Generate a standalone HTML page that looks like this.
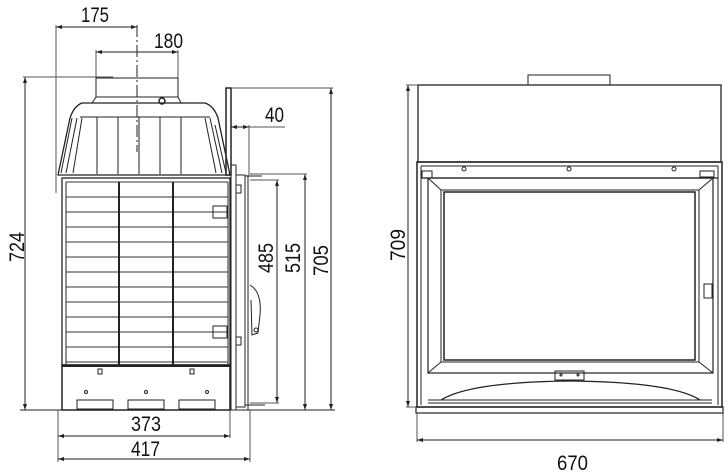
<!DOCTYPE html>
<html><head><meta charset="utf-8"><style>
html,body{margin:0;padding:0;background:#fff;}
svg{display:block;}
text{font-family:"Liberation Sans",sans-serif;font-size:21px;fill:#111;}
</style></head><body>
<svg width="728" height="473" viewBox="0 0 728 473" xmlns="http://www.w3.org/2000/svg">
<g stroke="#222" fill="none" stroke-width="1">
<!-- ===== LEFT VIEW ===== -->
<!-- dims top -->
<line x1="56" y1="27" x2="137" y2="27"/>
<line x1="56" y1="25" x2="56" y2="193" stroke="#555"/>
<line x1="137" y1="25" x2="137" y2="152" stroke-dasharray="12,3,2,3"/>
<line x1="96" y1="52" x2="178" y2="52"/>
<line x1="96" y1="50" x2="96" y2="78" stroke="#555"/>
<line x1="178" y1="50" x2="178" y2="78" stroke="#555"/>
<!-- 724 -->
<line x1="25" y1="77" x2="25" y2="410"/>
<line x1="23" y1="77" x2="113" y2="77" stroke="#555"/>
<!-- baseline -->
<line x1="20" y1="410" x2="335" y2="410"/>
<!-- flue -->
<rect x="96" y="78" width="82" height="19"/>
<path d="M92 103 L96 97 L178 97 L181 103"/>
<circle cx="162" cy="101" r="3" stroke-width="1.5"/>
<!-- hood -->
<path d="M82 103 L205 103 Q214 106 218 118 L230 175 L58 175 L70 118 Q74 106 82 103 Z" stroke-width="1.3"/>
<line x1="80" y1="117" x2="210" y2="117"/>
<path d="M72 118 L61 173 M77 118 L66 173 M82 118 L73 173"/>
<path d="M205 118 L216 173 M210 118 L222 173 M215 125 L226 173"/>
<line x1="97" y1="117" x2="97" y2="174"/><line x1="118" y1="117" x2="118" y2="174"/>
<line x1="139" y1="117" x2="139" y2="174"/><line x1="160" y1="117" x2="160" y2="174"/>
<line x1="181" y1="117" x2="181" y2="174"/>
<!-- body -->
<rect x="62" y="178" width="168" height="187" stroke-width="1.3"/>
<line x1="66" y1="182" x2="66" y2="365"/>
<line x1="228" y1="182" x2="228" y2="365"/>
<g stroke="#333">
<line x1="66" y1="182" x2="228" y2="182"/>
<line x1="66" y1="197" x2="228" y2="197"/><line x1="66" y1="212" x2="228" y2="212"/>
<line x1="66" y1="227" x2="228" y2="227"/><line x1="66" y1="242" x2="228" y2="242"/>
<line x1="66" y1="257" x2="228" y2="257"/><line x1="66" y1="272" x2="228" y2="272"/>
<line x1="66" y1="287" x2="228" y2="287"/><line x1="66" y1="302" x2="228" y2="302"/>
<line x1="66" y1="317" x2="228" y2="317"/><line x1="66" y1="332" x2="228" y2="332"/>
<line x1="66" y1="347" x2="228" y2="347"/><line x1="66" y1="362" x2="228" y2="362"/>
</g>
<line x1="119" y1="182" x2="119" y2="365" stroke-width="2"/>
<line x1="173" y1="182" x2="173" y2="365" stroke-width="2"/>
<rect x="213" y="206" width="14" height="12"/>
<rect x="213" y="326" width="14" height="12"/>
<!-- lower box -->
<rect x="62" y="365" width="168" height="45" stroke-width="1.5"/>
<line x1="62" y1="366" x2="230" y2="366" stroke-width="2"/>
<rect x="77" y="400" width="36" height="9"/>
<rect x="128" y="400" width="36" height="9"/>
<rect x="179" y="400" width="36" height="9"/>
<circle cx="86" cy="392" r="1.5"/><circle cx="146" cy="392" r="1.5"/><circle cx="207" cy="392" r="1.5"/>
<rect x="98" y="369" width="4" height="5"/><rect x="190" y="369" width="4" height="5"/>
<!-- side plate and frame -->
<rect x="226" y="88" width="5" height="87" stroke-width="1.5"/>
<rect x="231" y="165" width="5" height="245"/>
<rect x="236" y="175" width="9" height="232"/>
<line x1="248" y1="175" x2="248" y2="410"/>
<rect x="236" y="185" width="5" height="8"/><rect x="236" y="337" width="5" height="8"/>
<path d="M245 176 L262 176 M245 405 L265 405"/>
<path d="M250 285 Q262 292 260 315 L258 333 L252 335 L251 300" />
<circle cx="256" cy="330" r="2"/>
<!-- 40 -->
<line x1="231" y1="127" x2="249" y2="127"/>
<line x1="249" y1="125" x2="249" y2="175" stroke="#555"/>
<line x1="249" y1="127" x2="285" y2="127" stroke="#555"/>
<!-- 485 515 705 -->
<line x1="277" y1="180" x2="277" y2="403"/>
<line x1="250" y1="180" x2="279" y2="180" stroke="#555"/>
<line x1="250" y1="403" x2="279" y2="403" stroke="#555"/>
<line x1="305" y1="174" x2="305" y2="410"/>
<line x1="250" y1="174" x2="307" y2="174" stroke="#555"/>
<line x1="331" y1="88" x2="331" y2="410"/>
<line x1="232" y1="88" x2="333" y2="88" stroke="#555"/>
<!-- 373 417 -->
<line x1="58" y1="410" x2="58" y2="462" stroke="#555"/>
<line x1="230" y1="410" x2="230" y2="438" stroke="#555"/>
<line x1="250" y1="410" x2="250" y2="462" stroke="#555"/>
<line x1="58" y1="436" x2="230" y2="436"/>
<line x1="58" y1="459" x2="250" y2="459"/>

<!-- ===== RIGHT VIEW ===== -->
<rect x="528" y="75" width="82" height="10"/>
<rect x="418" y="85" width="303" height="77" stroke-width="1.3"/>
<rect x="417" y="162" width="305" height="245" stroke-width="1.5"/>
<line x1="421" y1="166" x2="718" y2="166"/>
<line x1="421" y1="166" x2="421" y2="405"/>
<line x1="718" y1="166" x2="718" y2="405"/>
<line x1="421" y1="178" x2="718" y2="178" stroke-width="1.3"/>
<rect x="422" y="171" width="10" height="7"/>
<rect x="700" y="171" width="14" height="6"/>
<circle cx="464" cy="169" r="2"/><circle cx="569" cy="169" r="2"/><circle cx="674" cy="169" r="2"/>
<rect x="428" y="178" width="285" height="195" stroke-width="1.2"/>
<rect x="441" y="190" width="258" height="172"/>
<rect x="444" y="192" width="251" height="168" stroke-width="1.5"/>
<path d="M428 178 L441 190 M713 178 L699 190 M428 373 L441 362 M713 373 L699 362"/>
<rect x="555" y="371" width="29" height="9"/>
<circle cx="561" cy="375" r="1"/><circle cx="578" cy="375" r="1"/>
<path d="M441 400 Q470 382 570 381 Q672 382 700 400" stroke-width="1.3"/>
<line x1="428" y1="400" x2="712" y2="400"/>
<line x1="428" y1="403" x2="712" y2="403"/>
<rect x="704" y="284" width="8" height="14"/>
<line x1="713" y1="280" x2="713" y2="335"/>
<rect x="416" y="407" width="307" height="6" stroke-width="1.2"/>
<!-- 709 -->
<line x1="408" y1="85" x2="408" y2="407"/>
<line x1="406" y1="85" x2="418" y2="85" stroke="#555"/>
<line x1="406" y1="407" x2="416" y2="407" stroke="#555"/>
<!-- 670 -->
<line x1="417" y1="413" x2="417" y2="442" stroke="#555"/>
<line x1="723" y1="413" x2="723" y2="442" stroke="#555"/>
<line x1="417" y1="440" x2="723" y2="440"/>
</g>
<!-- arrowheads (small) -->
<g fill="#222">
<path d="M25 77 l-2 6 h4z M25 410 l-2 -6 h4z"/>
<path d="M331 88 l-2 6 h4z M331 410 l-2 -6 h4z M305 174 l-2 6 h4z M305 410 l-2 -6 h4z M277 180 l-2 6 h4z M277 403 l-2 -6 h4z"/>
<path d="M408 85 l-2 6 h4z M408 407 l-2 -6 h4z"/>
<path d="M417 440 l6 -2 v4z M723 440 l-6 -2 v4z M58 436 l6 -2 v4z M230 436 l-6 -2 v4z M58 459 l6 -2 v4z M250 459 l-6 -2 v4z"/>
<path d="M56 27 l6 -2 v4z M137 27 l-6 -2 v4z M96 52 l6 -2 v4z M178 52 l-6 -2 v4z M231 127 l6 -2 v4z M249 127 l-6 -2 v4z"/>
</g>
<!-- labels -->
<text x="81" y="22" textLength="28" lengthAdjust="spacingAndGlyphs">175</text>
<text x="154" y="48" textLength="29" lengthAdjust="spacingAndGlyphs">180</text>
<text x="265" y="122" textLength="19" lengthAdjust="spacingAndGlyphs">40</text>
<text x="131" y="431" textLength="30" lengthAdjust="spacingAndGlyphs">373</text>
<text x="131" y="456" textLength="29" lengthAdjust="spacingAndGlyphs">417</text>
<text x="557" y="470" textLength="31" lengthAdjust="spacingAndGlyphs">670</text>
<text transform="translate(24,262) rotate(-90)" textLength="30" lengthAdjust="spacingAndGlyphs">724</text>
<text transform="translate(273,273) rotate(-90)" textLength="30" lengthAdjust="spacingAndGlyphs">485</text>
<text transform="translate(300,273) rotate(-90)" textLength="30" lengthAdjust="spacingAndGlyphs">515</text>
<text transform="translate(328,276) rotate(-90)" textLength="31" lengthAdjust="spacingAndGlyphs">705</text>
<text transform="translate(405,261) rotate(-90)" textLength="32" lengthAdjust="spacingAndGlyphs">709</text>
</svg>
</body></html>
